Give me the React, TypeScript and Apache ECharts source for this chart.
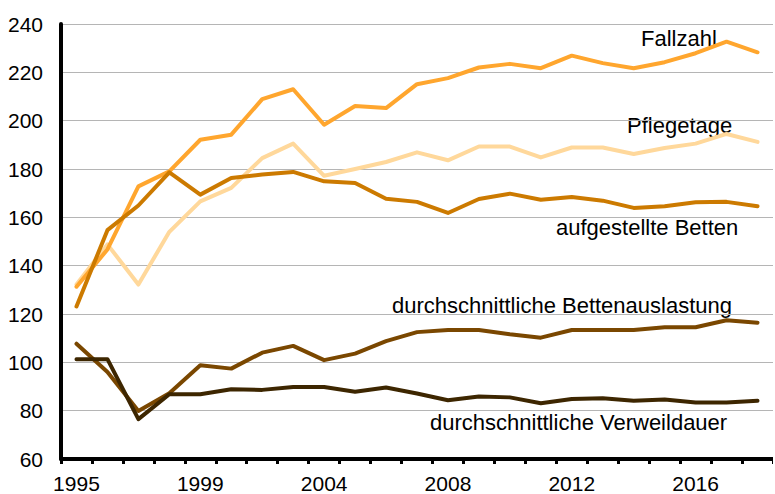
import React, { useEffect, useRef } from "react";
import * as echarts from "echarts";

const categories = [
  "1995", "1996", "1997", "1998", "1999", "2000", "2001", "2002", "2004", "2005", "2006", "2007",
  "2008", "2009", "2010", "2011", "2012", "2013", "2014", "2015", "2016", "2017", "2018",
];
const yTicks = { min: 60, max: 240, interval: 20 };

const fallzahl = [131.3, 146.7, 172.8, 179, 192.1, 194.2, 208.9, 213, 198.3, 206.1, 205.2, 215.1, 217.6, 222, 223.5, 221.7, 226.9, 223.8, 221.7, 224.2, 227.9, 232.7, 228.3];
const pflegetage = [132.2, 148.8, 132.2, 154, 166.6, 172.2, 184.5, 190.5, 177.2, 180, 182.9, 186.9, 183.6, 189.3, 189.3, 184.8, 188.9, 188.9, 186.2, 188.7, 190.5, 194.5, 191.2];
const betten = [123.1, 154.7, 164.9, 178.6, 169.4, 176.3, 177.7, 178.8, 174.9, 174.2, 167.7, 166.4, 161.8, 167.6, 169.8, 167.3, 168.4, 166.9, 163.9, 164.6, 166.2, 166.4, 164.6];
const auslastung = [107.7, 96, 79.9, 87.2, 98.8, 97.4, 104, 106.8, 100.9, 103.6, 108.8, 112.5, 113.4, 113.4, 111.6, 110.2, 113.4, 113.4, 113.4, 114.5, 114.5, 117.4, 116.4];
const verweildauer = [101.3, 101.3, 76.5, 86.8, 86.8, 88.9, 88.6, 89.8, 89.8, 87.8, 89.6, 87.1, 84.3, 85.9, 85.5, 83.1, 84.8, 85.1, 84.1, 84.6, 83.4, 83.4, 84.1];

const seriesNames = [
  "Fallzahl",
  "Pflegetage",
  "aufgestellte Betten",
  "durchschnittliche Bettenauslastung",
  "durchschnittliche Verweildauer",
];

const FONT = "'Liberation Sans', Arial, sans-serif";

export default function App() {
  const ref = useRef<HTMLDivElement>(null);
  useEffect(() => {
    if (!ref.current) return;
    const chart = echarts.init(ref.current, null, { renderer: "svg" });
    const mk = (name: string, data: number[], color: string) => ({
      name,
      type: "line",
      data,
      symbol: "none",
      lineStyle: { color, width: 4, cap: "round", join: "round" },
      itemStyle: { color },
    });
    const label = (text: string, x: number, y: number) => ({
      type: "text",
      x,
      y,
      style: {
        text,
        font: `22px ${FONT}`,
        fill: "#000",
        textAlign: "left",
        textVerticalAlign: "middle",
      },
    });
    chart.setOption({
      animation: false,
      backgroundColor: "#fff",
      grid: { left: 61, top: 24, width: 720, height: 436 },
      xAxis: {
        type: "category",
        data: categories,
        boundaryGap: true,
        axisLine: { lineStyle: { color: "#000", width: 4 } },
        axisTick: { show: true, interval: 0, length: 5, lineStyle: { color: "#000", width: 3 } },
        axisLabel: { interval: 3, margin: 14, color: "#000", fontSize: 21, fontFamily: FONT },
        splitLine: { show: false },
      },
      yAxis: {
        type: "value",
        min: yTicks.min,
        max: yTicks.max,
        interval: yTicks.interval,
        axisLine: { show: true, lineStyle: { color: "#000", width: 4 } },
        axisTick: { show: false },
        axisLabel: { margin: 18, color: "#000", fontSize: 21, fontFamily: FONT },
        splitLine: { lineStyle: { color: "#b5b5b5", width: 1 } },
      },
      series: [
        mk(seriesNames[1], pflegetage, "#FFD89B"),
        mk(seriesNames[0], fallzahl, "#FFA62E"),
        mk(seriesNames[2], betten, "#CC7A00"),
        mk(seriesNames[3], auslastung, "#7A4700"),
        mk(seriesNames[4], verweildauer, "#3D2600"),
      ],
      graphic: [
        label(seriesNames[0], 641, 38),
        label(seriesNames[1], 627, 125),
        label(seriesNames[2], 556, 227),
        label(seriesNames[3], 392, 305),
        label(seriesNames[4], 430, 422),
      ],
    });
    return () => chart.dispose();
  }, []);
  return (
    <div
      ref={ref}
      style={{ position: "absolute", left: 0, top: 0, width: 773, height: 494, background: "#fff" }}
    />
  );
}
